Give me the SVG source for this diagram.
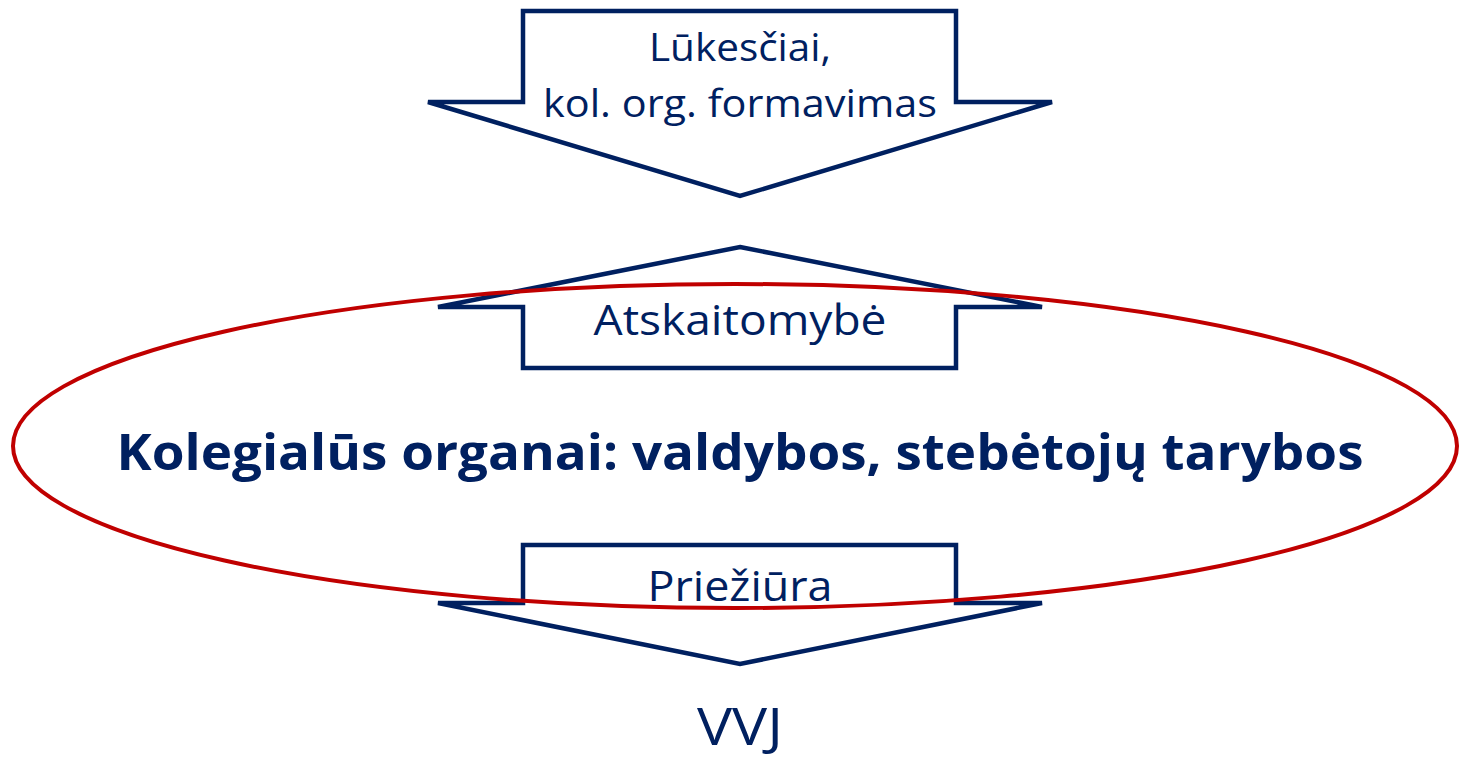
<svg xmlns="http://www.w3.org/2000/svg" width="1460" height="761" viewBox="0 0 1460 761">
<style>
.arrow{fill:#fff;stroke:#002060;stroke-width:4.5;stroke-linejoin:miter}
.t{font-family:"Open Sans","Liberation Sans",sans-serif;fill:#002060;text-anchor:middle}
.big{font-weight:bold;font-size:50px}
</style>
<rect width="1460" height="761" fill="#fff"/>
<g id="arrow-top">
<polygon class="arrow" points="523,11 956,11 956,102 1052,102 740,196 428,102 523,102"/>
<text class="t" x="740" y="61" font-size="39" textLength="182" lengthAdjust="spacingAndGlyphs">Lūkesčiai,</text>
<text class="t" x="740" y="117" font-size="39" textLength="394" lengthAdjust="spacingAndGlyphs">kol. org. formavimas</text>
</g>
<g id="arrow-up">
<polygon class="arrow" points="740,247 1042,307 956,307 956,368 523,368 523,307 438,307"/>
<text class="t" x="740" y="335" font-size="42" textLength="293" lengthAdjust="spacingAndGlyphs">Atskaitomybė</text>
</g>
<g id="arrow-down">
<polygon class="arrow" points="523,545 956,545 956,603 1042,603 740,664 438,603 523,603"/>
<text class="t" x="740" y="601" font-size="42" textLength="185" lengthAdjust="spacingAndGlyphs">Priežiūra</text>
</g>
<g id="ellipse">
<ellipse cx="735" cy="446" rx="722" ry="162" fill="none" stroke="#C00000" stroke-width="4"/>
<text class="t big" x="740" y="470" textLength="1247" lengthAdjust="spacingAndGlyphs">Kolegialūs organai: valdybos, stebėtojų tarybos</text>
</g>
<g id="vvj">
<text class="t" x="740" y="745" font-size="52" textLength="86" lengthAdjust="spacingAndGlyphs">VVJ</text>
</g>
</svg>
